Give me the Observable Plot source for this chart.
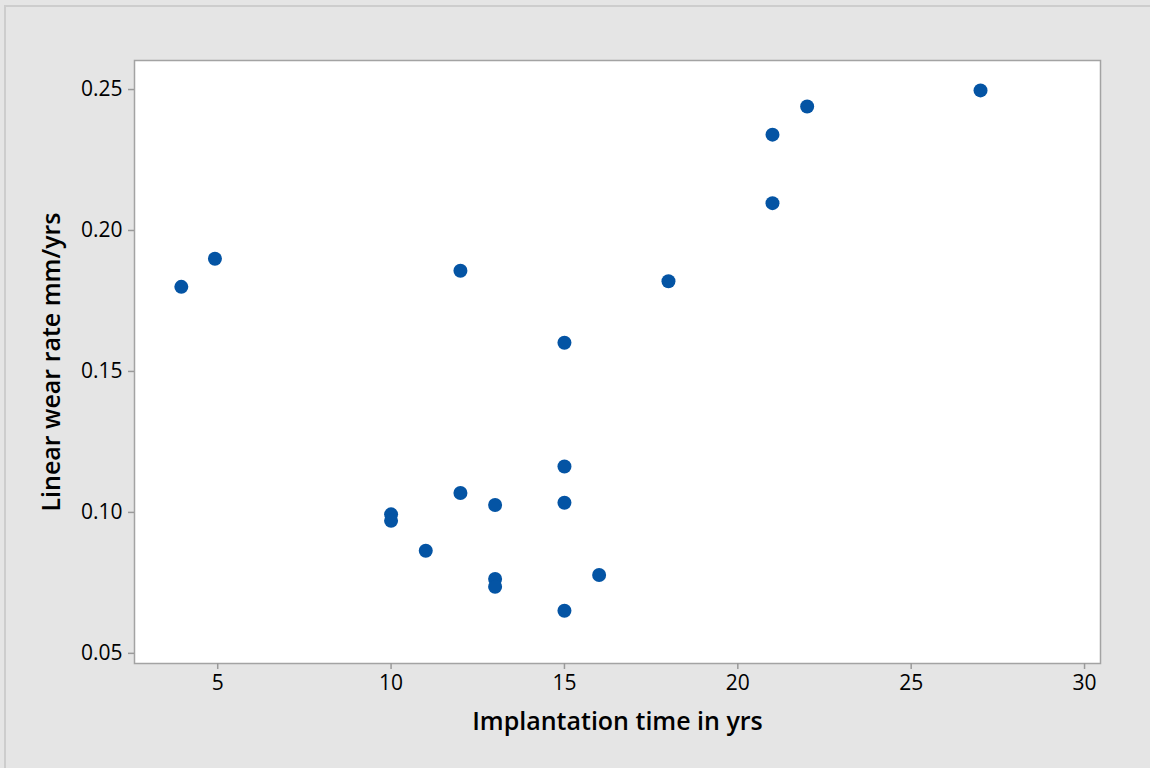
<!DOCTYPE html>
<html>
<head>
<meta charset="utf-8">
<script src="https://cdn.jsdelivr.net/npm/d3@7"></script>
<script src="https://cdn.jsdelivr.net/npm/@observablehq/plot@0.6"></script>
<style>
  html, body { margin: 0; padding: 0; background: #e5e5e5; }
  #wrap { position: relative; width: 1150px; height: 768px; background: #e5e5e5; overflow: hidden; }
  #edge { position: absolute; left: 4px; top: 5px; right: -4px; bottom: -4px;
          border-left: 2px solid #cdcdcd; border-top: 2px solid #cdcdcd; pointer-events: none; }
  #chart { position: absolute; left: 0; top: 0; }
</style>
</head>
<body>
<div id="wrap"><div id="chart"></div><div id="edge"></div></div>
<script>
// Implantation time (years) and linear wear rate (mm/yr) for each implant
const implantYears = [3.95, 4.92, 10, 10, 11, 12, 12, 13, 13, 13, 15, 15, 15, 15, 16, 18, 21, 21, 22, 27];
const wearRate = [0.180, 0.190, 0.0993, 0.0970, 0.0864, 0.1069, 0.1857, 0.1026, 0.0764, 0.0736,
                  0.1602, 0.1163, 0.1034, 0.0651, 0.0778, 0.1820, 0.2097, 0.2340, 0.2440, 0.2497];
const xTicks = [5, 10, 15, 20, 25, 30];
const yTicks = [0.05, 0.10, 0.15, 0.20, 0.25];

const rows = implantYears.map((t, i) => ({t, w: wearRate[i]}));

const font = "'Open Sans', 'DejaVu Sans', sans-serif";

const chart = Plot.plot({
  width: 1150,
  height: 768,
  marginLeft: 134,
  marginRight: 50,
  marginTop: 60,
  marginBottom: 105,
  style: {background: "transparent", fontFamily: font, color: "#000"},
  x: {domain: [2.6, 30.46]},
  y: {domain: [0.0464, 0.2603]},
  marks: [
    Plot.frame({fill: "white", stroke: "#a3a3a3", strokeWidth: 1.5}),
    Plot.axisX({
      ticks: xTicks, tickSize: 6, tickPadding: 6, stroke: "#9a9a9a", strokeWidth: 1.5,
      fontSize: 21, fill: "#000", tickFormat: d3.format("d"),
      label: "Implantation time in yrs", labelAnchor: "center", labelArrow: "none",
      labelOffset: 66
    }),
    Plot.axisY({
      ticks: yTicks, tickSize: 6, tickPadding: 6, stroke: "#9a9a9a", strokeWidth: 1.5,
      fontSize: 21, fill: "#000", tickFormat: d3.format(".2f"),
      label: "Linear wear rate mm/yrs", labelAnchor: "center", labelArrow: "none",
      labelOffset: 92
    }),
    Plot.dot(rows, {x: "t", y: "w", r: 7, fill: "#0454a4", stroke: "none"})
  ]
});

// Axis titles are bolder and larger than tick labels
chart.querySelectorAll("[aria-label='x-axis label'] text, [aria-label='y-axis label'] text").forEach(el => {
  el.setAttribute("font-size", 25);
  el.setAttribute("font-weight", 600);
  el.style.fontSize = "25px";
  el.style.fontWeight = "600";
});

document.getElementById("chart").appendChild(chart);
</script>
</body>
</html>
